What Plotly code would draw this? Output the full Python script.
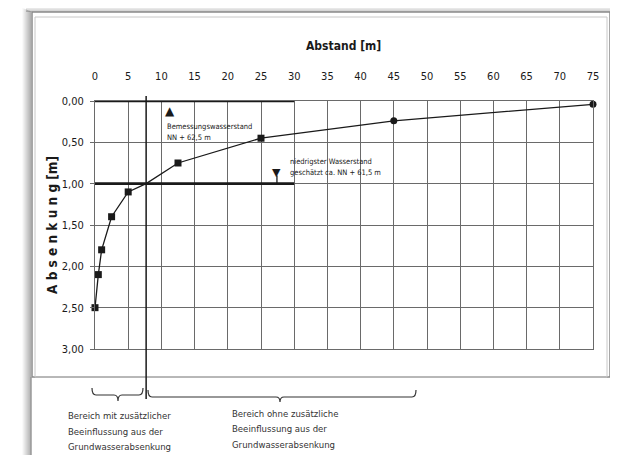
import plotly.graph_objects as go

# ---------------- data ----------------
distance_m = [0, 0.5, 1, 2.5, 5, 12.5, 25, 45, 75]
drawdown_m = [2.5, 2.1, 1.8, 1.4, 1.1, 0.75, 0.45, 0.24, 0.04]
marker_kind = ["square", "square", "square", "square", "square", "square", "square", "circle", "circle"]

intersection_x = 7.7          # Grenze der Beeinflussung
intersection_y = 1.0

design_level_y = 0.0          # Bemessungswasserstand
lowest_level_y = 1.0          # niedrigster Wasserstand
level_line_x_end = 30

x_ticks = list(range(0, 80, 5))
x_tick_labels = [str(v) for v in x_ticks]
y_ticks = [0, 0.5, 1.0, 1.5, 2.0, 2.5, 3.0]
y_tick_labels = ["0,00", "0,50", "1,00", "1,50", "2,00", "2,50", "3,00"]

design_label = ["Bemessungswasserstand", "NN + 62,5 m"]
lowest_label = ["niedrigster Wasserstand", "geschätzt ca. NN + 61,5 m"]
left_note = ["Bereich mit zusätzlicher", "Beeinflussung aus der", "Grundwasserabsenkung"]
right_note = ["Bereich ohne zusätzliche", "Beeinflussung aus der", "Grundwasserabsenkung"]

# ---------------- layout geometry ----------------
OFF = 8                       # page margin of the html body
W, H = 618 - OFF, 455 - OFF
L, R, T, B = 95 - OFF, 25, 101 - OFF, 106
PW, PH = W - L - R, H - T - B


def px(x):
    """screen pixel x -> paper"""
    return (x - OFF - L) / PW


def py(y):
    """screen pixel y -> paper"""
    return (OFF + H - B - y) / PH


FONT = "Liberation Sans Narrow, Arial Narrow, DejaVu Sans Condensed, Liberation Sans, sans-serif"
INK = "#1a1a1a"
GRID = "#6a6a6a"

# curve including intersection point
pts = sorted(zip(distance_m + [intersection_x], drawdown_m + [intersection_y]))
line_x = [p[0] for p in pts]
line_y = [p[1] for p in pts]

fig = go.Figure()
fig.add_trace(go.Scatter(x=line_x, y=line_y, mode="lines",
                         line=dict(color=INK, width=1.3), hoverinfo="skip",
                         showlegend=False, cliponaxis=False))
fig.add_trace(go.Scatter(x=distance_m, y=drawdown_m, mode="markers",
                         marker=dict(symbol=marker_kind, size=7, color=INK),
                         showlegend=False, cliponaxis=False))

shapes = []
# shadow of the document frame (left and top)
for i in range(9):
    a = 0.02 + 0.035 * i
    shapes.append(dict(type="rect", xref="paper", yref="paper",
                       x0=px(22 + i), x1=px(23 + i), y0=py(455), y1=py(8 + i * 0.4),
                       line=dict(width=0), fillcolor=f"rgba(0,0,0,{a:.3f})", layer="below"))
for i in range(6):
    a = 0.02 + 0.035 * i
    shapes.append(dict(type="rect", xref="paper", yref="paper",
                       x0=px(26), x1=px(618), y0=py(7 + i), y1=py(6 + i),
                       line=dict(width=0), fillcolor=f"rgba(0,0,0,{a:.3f})", layer="below"))
# frame
shapes.append(dict(type="rect", xref="paper", yref="paper",
                   x0=px(32), x1=px(610), y0=py(377), y1=py(12),
                   line=dict(color="#8a8a8a", width=1.5), layer="below"))
shapes.append(dict(type="rect", xref="paper", yref="paper",
                   x0=px(35), x1=px(607), y0=py(377), y1=py(17),
                   line=dict(color="#c8c8c8", width=1), layer="below"))
shapes.append(dict(type="line", xref="paper", yref="paper",
                   x0=px(31), x1=px(31), y0=py(377), y1=py(455),
                   line=dict(color="#9a9a9a", width=1.5), layer="below"))

# thick water level lines
for yv in (design_level_y, lowest_level_y):
    shapes.append(dict(type="line", xref="x", yref="y", x0=0, x1=level_line_x_end,
                       y0=yv, y1=yv, line=dict(color=INK, width=2.6)))
# vertical boundary line
shapes.append(dict(type="line", xref="x", yref="paper", x0=intersection_x, x1=intersection_x,
                   y0=py(96), y1=py(399), line=dict(color=INK, width=1.5)))
# stem of the lowest level symbol
shapes.append(dict(type="line", xref="x", yref="y", x0=27.4, x1=27.4,
                   y0=0.9, y1=1.0, line=dict(color=INK, width=1.3)))


def brace(xl, xr, xc, ytop, ymid, ytip):
    d = 4
    return ("M {a},{b} Q {a},{m} {a2},{m} L {c1},{m} Q {c},{m} {c},{t} "
            "Q {c},{m} {c2},{m} L {r1},{m} Q {r},{m} {r},{b}").format(
        a=px(xl), a2=px(xl + d), b=py(ytop), m=py(ymid), c1=px(xc - d), c=px(xc), t=py(ytip),
        c2=px(xc + d), r1=px(xr - d), r=px(xr))


shapes.append(dict(type="path", xref="paper", yref="paper",
                   path=brace(92, 143, 118, 388, 395, 401),
                   line=dict(color="#333", width=1.2)))
shapes.append(dict(type="path", xref="paper", yref="paper",
                   path=brace(148, 416, 280, 390, 397, 402),
                   line=dict(color="#333", width=1.2)))


def text_at(s, xs, ys, size, color=INK, xanchor="center", angle=0, family=FONT):
    return dict(text=s, xref="paper", yref="paper", x=px(xs), y=py(ys), xanchor=xanchor,
                yanchor="middle", textangle=angle, showarrow=False,
                font=dict(family=family, size=size, color=color))


annotations = [
    text_at("<b>Abstand [m]</b>", 343, 46, 12),
    text_at("<b>" + " ".join("Absenkung") + " [m]</b>", 52, 225, 13.5, angle=-90),
    dict(text="▲", xref="x", yref="y", x=11.3, y=0.12, showarrow=False,
         font=dict(family="DejaVu Sans", size=12, color=INK)),
    dict(text="▼", xref="x", yref="y", x=27.4, y=0.86, showarrow=False,
         font=dict(family="DejaVu Sans", size=11, color=INK)),
]
for s, ys in zip(design_label, (126, 137)):
    annotations.append(text_at(s, 165, ys, 7.5, xanchor="left"))
for s, ys in zip(lowest_label, (161, 172)):
    annotations.append(text_at(s, 288, ys, 7.5, xanchor="left"))
for s, ys in zip(left_note, (416, 431, 446)):
    annotations.append(text_at(s, 66, ys, 9.5, color="#333", xanchor="left"))
for s, ys in zip(right_note, (413, 428, 444)):
    annotations.append(text_at(s, 230, ys, 9.5, color="#333", xanchor="left"))

fig.update_layout(
    width=W, height=H,
    margin=dict(l=L, r=R, t=T, b=B, pad=0),
    paper_bgcolor="white", plot_bgcolor="white",
    shapes=shapes, annotations=annotations,
    font=dict(family=FONT, size=11, color=INK),
    showlegend=False,
)
fig.update_xaxes(range=[0, 75], side="top", tickvals=x_ticks, ticktext=x_tick_labels,
                 showgrid=True, gridcolor=GRID, gridwidth=1, zeroline=False,
                 showline=True, linecolor=GRID, linewidth=1, mirror=True,
                 ticks="", ticklabelstandoff=16, tickfont=dict(family=FONT, size=11, color=INK))
fig.update_yaxes(range=[3, 0], tickvals=y_ticks, ticktext=y_tick_labels,
                 showgrid=True, gridcolor=GRID, gridwidth=1, zeroline=False,
                 showline=True, linecolor=GRID, linewidth=1, mirror=True,
                 ticks="outside", ticklen=4, tickcolor=GRID, ticklabelstandoff=4,
                 tickfont=dict(family=FONT, size=11, color=INK))

fig.write_html("out.html")
